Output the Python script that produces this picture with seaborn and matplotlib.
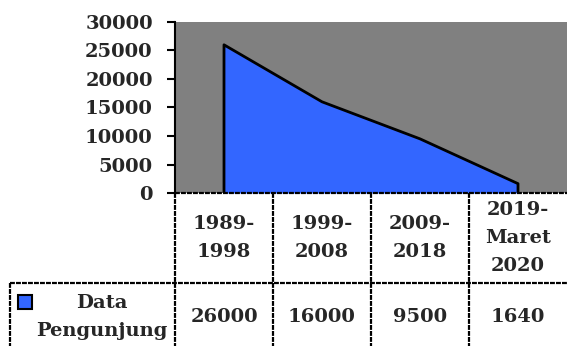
import matplotlib
matplotlib.use("Agg")
import matplotlib.pyplot as plt
import matplotlib.transforms as mtransforms
from matplotlib.lines import Line2D
from matplotlib.patches import Rectangle
import seaborn as sns
import pandas as pd

# Visitor counts per period
periods = ["1989-\n1998", "1999-\n2008", "2009-\n2018", "2019-\nMaret\n2020"]
visitors = [26000, 16000, 9500, 1640]
series_name = "Data\nPengunjung"
y_ticks = [0, 5000, 10000, 15000, 20000, 25000, 30000]

AREA_BLUE = "#3366FF"
PLOT_GRAY = "#808080"

sns.set_style("white")
plt.rcParams["font.family"] = ["DejaVu Serif"]
plt.rcParams["font.weight"] = "bold"

W, H = 567, 346
fig = plt.figure(figsize=(W / 100, H / 100), dpi=100)

# Plot area in pixel terms: left 175, top 22, bottom 193, right edge of figure
left_px, top_px, bot_px = 175, 22, 193
ax = fig.add_axes([left_px / W, 1 - bot_px / H, 1 - left_px / W, (bot_px - top_px) / H])
ax.set_facecolor(PLOT_GRAY)

df = pd.DataFrame({"pos": list(range(len(periods))), "visitors": visitors})

# Area fill with vertical edges at the first and last category
ax.fill_between(df["pos"], 0, df["visitors"], color=AREA_BLUE, linewidth=0, zorder=2)
outline_x = [df["pos"].iloc[0]] + list(df["pos"]) + [df["pos"].iloc[-1]]
outline_y = [0] + list(df["visitors"]) + [0]
sns.lineplot(x=outline_x, y=outline_y, sort=False, estimator=None, ax=ax,
             color="black", linewidth=2.0, zorder=3)

ax.set_xlim(-0.5, len(periods) - 0.5)
ax.set_ylim(0, 30000)
ax.set_yticks(y_ticks)
ax.set_yticklabels([str(v) for v in y_ticks], fontsize=14, fontweight="bold")
ax.set_xticks([])
ax.tick_params(axis="y", direction="out", length=6, width=1.5, color="black", pad=10, left=True)
for side in ["top", "right", "bottom"]:
    ax.spines[side].set_visible(False)
ax.spines["left"].set_color("black")
ax.spines["left"].set_linewidth(1.5)
ax.set_xlabel("")
ax.set_ylabel("")

# Data table beneath the plot area
blend = mtransforms.blended_transform_factory(ax.transData, fig.transFigure)
row1_top = 1 - bot_px / H
row2_top = 1 - 283 / H
row1_mid = 1 - 238 / H
row2_mid = 1 - 317 / H
label_left = 10 / W

dash = dict(color="black", linewidth=1.6, linestyle=(0, (2.2, 0.5)), clip_on=False)

fig.add_artist(Line2D([-0.5, len(periods) - 0.5], [row1_top, row1_top], transform=blend, **dash))
fig.add_artist(Line2D([label_left, 1.0], [row2_top, row2_top], transform=fig.transFigure, **dash))
for i in range(len(periods)):
    xb = i - 0.5
    fig.add_artist(Line2D([xb, xb], [row1_top, 0], transform=blend, **dash))
fig.add_artist(Line2D([label_left, label_left], [row2_top, 0], transform=fig.transFigure, **dash))

for i, (p, v) in enumerate(zip(periods, visitors)):
    fig.text(i, row1_mid, p, transform=blend, ha="center", va="center",
             fontsize=14, fontweight="bold", linespacing=1.72)
    fig.text(i, row2_mid, str(v), transform=blend, ha="center", va="center",
             fontsize=14, fontweight="bold")

# Legend key and series label
fig.add_artist(Rectangle((18 / W, 1 - 309 / H), 14 / W, 14 / H, transform=fig.transFigure,
                         facecolor=AREA_BLUE, edgecolor="black", linewidth=1.5))
fig.text(102 / W, row2_mid, series_name, transform=fig.transFigure, ha="center", va="center",
         fontsize=14, fontweight="bold", linespacing=1.72)

fig.savefig("out.png", dpi=100, facecolor="white")
